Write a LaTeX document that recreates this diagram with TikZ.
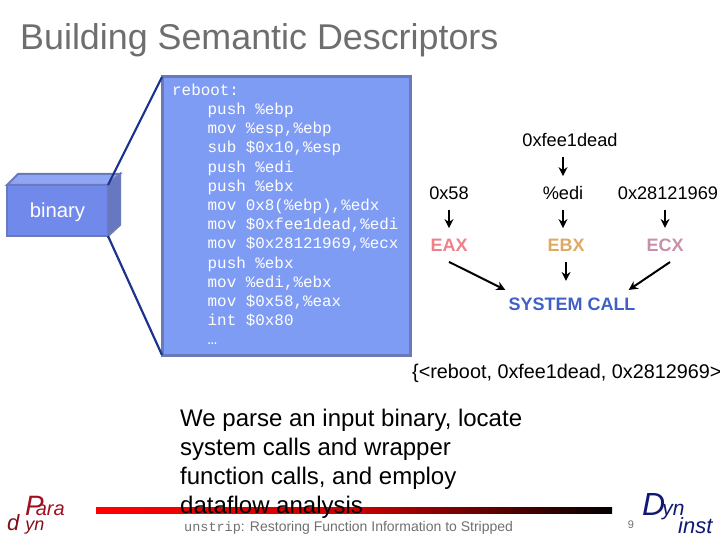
\documentclass[tikz,border=0pt]{standalone}
\usepackage{fontspec}
\usetikzlibrary{arrows.meta}
\setmainfont{Liberation Sans}
\setmonofont{Liberation Mono}
\definecolor{boxfill}{HTML}{7F9CF5}
\definecolor{boxedge}{HTML}{6A7AB8}
\definecolor{boxfront}{HTML}{7189EA}
\definecolor{boxtop}{HTML}{8FA6F7}
\definecolor{boxside}{HTML}{6878C0}
\definecolor{zoomline}{HTML}{1C3490}
\definecolor{titlegrey}{HTML}{6E6E6E}
\definecolor{eaxcol}{HTML}{F08088}
\definecolor{ebxcol}{HTML}{E0A860}
\definecolor{ecxcol}{HTML}{C890A8}
\definecolor{syscol}{HTML}{4060C8}
\definecolor{footgrey}{HTML}{707070}
\definecolor{parared}{HTML}{A01020}
\definecolor{dyndark}{HTML}{801018}
\definecolor{instblue}{HTML}{101870}
\tikzset{
    val/.style={inner xsep=2pt, inner ysep=10pt, font=\fontsize{18.2}{21}\selectfont},
    reg/.style={inner xsep=3pt, inner ysep=10.5pt, font=\fontsize{18}{21}\selectfont\bfseries},
    flow/.style={-{Stealth[length=9pt,width=9pt]}, line width=2pt, black},
    zoomto/.style={line width=2.2pt, zoomline},
}
\begin{document}
\begin{tikzpicture}[x=1pt,y=-1pt]
    \useasboundingbox (0,0) rectangle (720,540);
    \node[anchor=west, text=titlegrey, font=\fontsize{35.85}{40}\selectfont, inner sep=0pt] (title) at (20,40.5) {Building Semantic Descriptors};
    % binary box
    \fill[boxtop, draw=boxedge, line width=2pt] (7,185) -- (18,174) -- (120,174) -- (108,185) -- cycle;
    \fill[boxside, draw=boxedge, line width=2pt] (108,185) -- (120,174) -- (120,225) -- (108,236) -- cycle;
    \node[draw=boxedge, fill=boxfront, line width=2pt, minimum width=101pt, minimum height=51pt, inner sep=0pt, outer sep=0pt, text=white, text height=15pt, text depth=0pt, font=\fontsize{20.3}{24}\selectfont] (binary) at (57.5,210.5) {binary};
    % code box
    \node[draw=boxedge, fill=boxfill, line width=3pt, minimum width=248pt, minimum height=278pt, inner sep=0pt, outer sep=0pt] (code) at (286,216) {};
    \node[anchor=north west, align=left, inner sep=0pt, text=white, font=\fontsize{15.9}{19.2}\selectfont\ttfamily] (listing) at (172,83.5) {reboot:\\
    \hspace*{35.5pt}push \%ebp\\
    \hspace*{35.5pt}mov \%esp,\%ebp\\
    \hspace*{35.5pt}sub \$0x10,\%esp\\
    \hspace*{35.5pt}push \%edi\\
    \hspace*{35.5pt}push \%ebx\\
    \hspace*{35.5pt}mov 0x8(\%ebp),\%edx\\
    \hspace*{35.5pt}mov \$0xfee1dead,\%edi\\
    \hspace*{35.5pt}mov \$0x28121969,\%ecx\\
    \hspace*{35.5pt}push \%ebx\\
    \hspace*{35.5pt}mov \%edi,\%ebx\\
    \hspace*{35.5pt}mov \$0x58,\%eax\\
    \hspace*{35.5pt}int \$0x80\\
    \hspace*{35.5pt}…};
    \draw[zoomto] (binary.north east) -- (code.north west);
    \draw[zoomto] (binary.south east) -- (code.south west);
    % values and registers
    \node[val] (fee) at (570,140) {0xfee1dead};
    \node[val] (v58) at (449,193) {0x58};
    \node[val] (edi) at (563,193) {\%edi};
    \node[val] (v28) at (668,193) {0x28121969};
    \node[reg, text=eaxcol] (eax) at (449,245) {EAX};
    \node[reg, text=ebxcol] (ebx) at (566,245) {EBX};
    \node[reg, text=ecxcol] (ecx) at (665,245) {ECX};
    \node[reg, text=syscol, inner ysep=7.5pt] (sys) at (572,304) {SYSTEM CALL};
    \draw[flow] (fee.south -| edi) -- (edi.north);
    \draw[flow] (v58.south) -- (eax.north -| v58);
    \draw[flow] (edi.south) -- (ebx.north -| edi);
    \draw[flow] (v28.south -| ecx) -- (ecx.north);
    \draw[flow] (eax.south) -- (sys.north west);
    \draw[flow] (ebx.south) -- ([yshift=9pt]sys.north -| ebx);
    \draw[flow] ([xshift=5pt]ecx.south) -- ([xshift=-10pt]sys.north east);
    \node[anchor=west, inner sep=0pt, font=\fontsize{19.8}{23}\selectfont] (tuple) at (412,373) {\{<reboot, 0xfee1dead, 0x2812969>};
    % footer rule
    \shade[left color=red, right color=black, middle color=red!80!black] (96,507) rectangle (612,513);
    \node[anchor=north west, align=left, inner sep=0pt, font=\fontsize{24}{29}\selectfont] (summary) at (180,409) {We parse an input binary, locate\\system calls and wrapper\\function calls, and employ\\dataflow analysis};
    \node[anchor=west, inner sep=0pt, text=footgrey, font=\fontsize{14}{16}\selectfont] (footer) at (184,528) {{\ttfamily\fontsize{13.5}{16}\selectfont unstrip}: Restoring Function Information to Stripped};
    \node[text=footgrey, font=\fontsize{11}{13}\selectfont, inner sep=0pt] (page) at (631,525) {9};
    % logos
    \node[anchor=base west, text=parared, font=\fontsize{20}{22}\selectfont\itshape, inner sep=0pt] (logopara) at (25,515) {{\fontsize{28}{30}\selectfont P}\kern-8pt ara};
    \node[anchor=base west, text=dyndark, font=\fontsize{18}{20}\selectfont\itshape, inner sep=0pt] (logodyn) at (7,530) {{\fontsize{22}{24}\selectfont d}\kern6pt yn};
    \node[anchor=base west, text=instblue, font=\fontsize{21}{24}\selectfont\itshape, inner sep=0pt] (logod) at (642,515) {{\fontsize{32}{36}\selectfont D}\kern-3pt yn};
    \node[anchor=base west, text=instblue, font=\fontsize{22}{24}\selectfont\itshape, inner sep=0pt] (logoinst) at (678,533) {inst};
\end{tikzpicture}
\end{document}
